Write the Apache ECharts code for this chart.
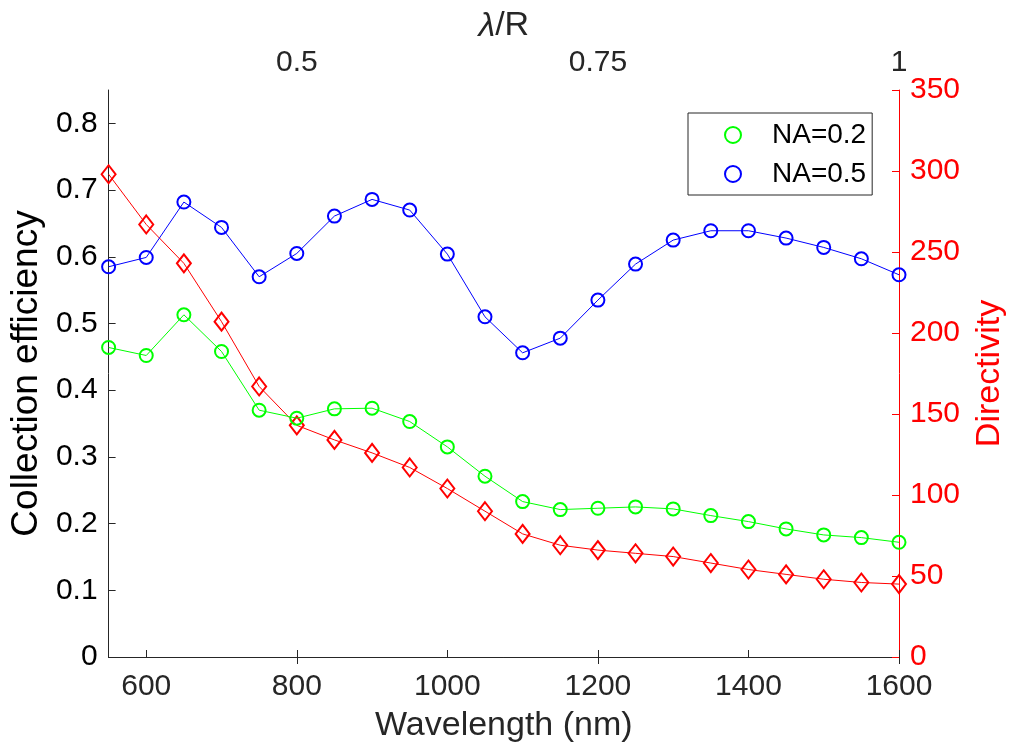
<!DOCTYPE html>
<html>
<head>
<meta charset="utf-8">
<script src="https://cdn.jsdelivr.net/npm/echarts@6/dist/echarts.min.js"></script>
<style>
html,body{margin:0;padding:0;background:#fff;}
#chart{width:1015px;height:751px;}
</style>
</head>
<body>
<div id="chart"></div>
<script>
var wavelengths = [550,600,650,700,750,800,850,900,950,1000,1050,1100,1150,1200,1250,1300,1350,1400,1450,1500,1550,1600];
var na02 = [0.464,0.452,0.513,0.458,0.370,0.358,0.372,0.373,0.353,0.315,0.271,0.233,0.221,0.223,0.225,0.222,0.212,0.203,0.192,0.183,0.179,0.172];
var na05 = [0.585,0.599,0.682,0.644,0.570,0.605,0.661,0.686,0.670,0.604,0.510,0.456,0.478,0.535,0.589,0.625,0.639,0.639,0.628,0.614,0.597,0.573];
var directivity = [298,267,243,207,167,143,134,126,117,104,90,76,69,66,64,62,58,54,51,48,46,45];
var bottomTicks = [600,800,1000,1200,1400,1600];
var topTickPositions = [800,1200,1600];
var topTickLabels = ['0.5','0.75','1'];
var leftTicks = [0,0.1,0.2,0.3,0.4,0.5,0.6,0.7,0.8];
var rightTicks = [0,50,100,150,200,250,300,350];

function pairs(ys){ return wavelengths.map(function(x,i){ return [x, ys[i]]; }); }

var AX = '#262626';
var FONT = '"Liberation Sans", Arial, Helvetica, sans-serif';
var chart = echarts.init(document.getElementById('chart'));
chart.setOption({
  backgroundColor: '#fff',
  animation: false,
  textStyle: { fontFamily: FONT },
  grid: { left: 107.5, right: 115, top: 90, bottom: 94, containLabel: false },
  legend: {
    orient: 'vertical',
    left: 688, top: 113,
    padding: [8, 6, 7, 36],
    itemWidth: 16, itemHeight: 16, itemGap: 11,
    backgroundColor: '#fff',
    borderColor: AX, borderWidth: 1,
    textStyle: { fontSize: 28, color: '#000', fontFamily: FONT, lineHeight: 26, padding: [0,0,0,26] },
    data: [
      { name: 'NA=0.2', icon: 'circle', itemStyle: { color: 'rgba(0,0,0,0)', borderColor: '#00ff00', borderWidth: 2 } },
      { name: 'NA=0.5', icon: 'circle', itemStyle: { color: 'rgba(0,0,0,0)', borderColor: '#0000ff', borderWidth: 2 } }
    ]
  },
  xAxis: [
    {
      type: 'value', position: 'bottom', min: 550, max: 1600,
      name: 'Wavelength (nm)', nameLocation: 'middle', nameGap: 52,
      nameTextStyle: { fontSize: 34, color: AX, fontFamily: FONT },
      axisLine: { show: true, lineStyle: { color: AX, width: 1 } },
      axisTick: { show: true, inside: true, length: 7, lineStyle: { color: AX }, customValues: bottomTicks },
      axisLabel: { fontSize: 30, color: AX, margin: 15, fontFamily: FONT, customValues: bottomTicks,
        formatter: function(v){ return String(v); } },
      splitLine: { show: false }
    },
    {
      type: 'value', position: 'top', min: 550, max: 1600,
      name: '{i|λ}/R', nameLocation: 'middle', nameGap: 46,
      nameTextStyle: { fontSize: 34, color: AX, fontFamily: FONT,
        rich: { i: { fontSize: 34, fontStyle: 'italic', color: AX, fontFamily: FONT } } },
      axisLine: { show: true, lineStyle: { color: AX, width: 1 } },
      axisTick: { show: true, inside: true, length: 7, lineStyle: { color: AX }, customValues: topTickPositions },
      axisLabel: { fontSize: 30, color: AX, margin: 12, fontFamily: FONT, customValues: topTickPositions,
        formatter: function(v){ var k = topTickPositions.indexOf(v); return k >= 0 ? topTickLabels[k] : ''; } },
      splitLine: { show: false }
    }
  ],
  yAxis: [
    {
      type: 'value', position: 'left', min: 0, max: 0.85,
      name: 'Collection efficiency', nameLocation: 'middle', nameGap: 62, nameRotate: 90,
      nameTextStyle: { fontSize: 37, color: '#000', fontFamily: FONT },
      axisLine: { show: true, lineStyle: { color: AX, width: 1 } },
      axisTick: { show: true, inside: true, length: 7, lineStyle: { color: AX }, customValues: leftTicks },
      axisLabel: { fontSize: 30, color: '#000', margin: 11, fontFamily: FONT, customValues: leftTicks,
        formatter: function(v){ return String(Math.round(v*10)/10); } },
      splitLine: { show: false }
    },
    {
      type: 'value', position: 'right', min: 0, max: 350,
      name: 'Directivity', nameLocation: 'middle', nameGap: 74, nameRotate: 90,
      nameTextStyle: { fontSize: 34, color: '#ff0000', fontFamily: FONT },
      axisLine: { show: true, lineStyle: { color: '#ff0000', width: 1 } },
      axisTick: { show: true, inside: true, length: 7, lineStyle: { color: '#ff0000' }, customValues: rightTicks },
      axisLabel: { fontSize: 30, color: '#ff0000', margin: 11, fontFamily: FONT, customValues: rightTicks },
      splitLine: { show: false }
    }
  ],
  series: [
    {
      name: 'Directivity', type: 'line', xAxisIndex: 0, yAxisIndex: 1,
      data: pairs(directivity),
      symbol: 'diamond', symbolSize: [14, 18],
      lineStyle: { color: '#ff0000', width: 1 },
      itemStyle: { color: 'rgba(0,0,0,0)', borderColor: '#ff0000', borderWidth: 2 },
      z: 2
    },
    {
      name: 'NA=0.2', type: 'line', xAxisIndex: 0, yAxisIndex: 0,
      data: pairs(na02),
      symbol: 'circle', symbolSize: 13,
      lineStyle: { color: '#00ff00', width: 1 },
      itemStyle: { color: 'rgba(0,0,0,0)', borderColor: '#00ff00', borderWidth: 2 },
      z: 3
    },
    {
      name: 'NA=0.5', type: 'line', xAxisIndex: 0, yAxisIndex: 0,
      data: pairs(na05),
      symbol: 'circle', symbolSize: 13,
      lineStyle: { color: '#0000ff', width: 1 },
      itemStyle: { color: 'rgba(0,0,0,0)', borderColor: '#0000ff', borderWidth: 2 },
      z: 3
    }
  ]
});
</script>
</body>
</html>
